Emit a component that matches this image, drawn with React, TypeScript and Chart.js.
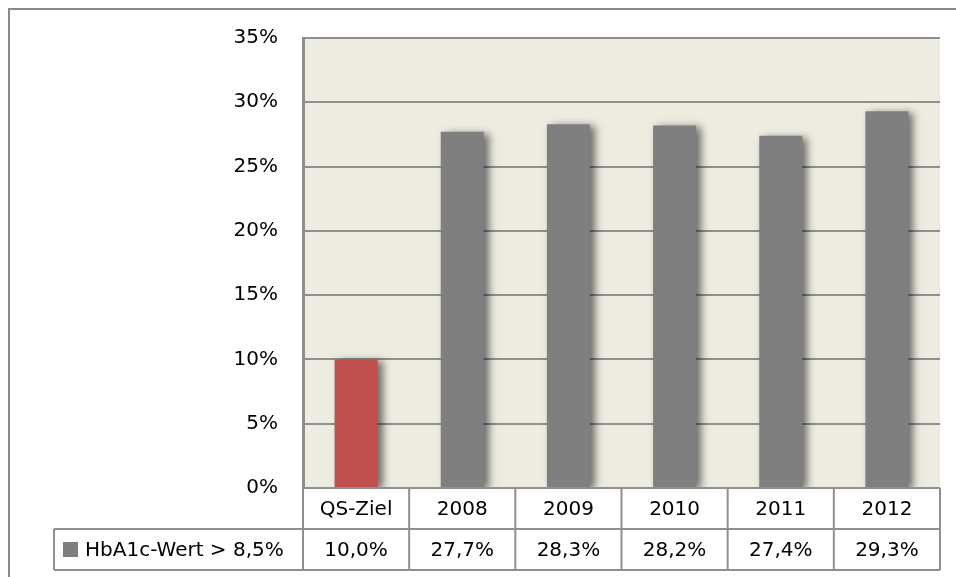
import React, { useEffect, useRef } from "react";
import { Chart, registerables } from "chart.js";

Chart.register(...registerables);

const categories = ["QS-Ziel", "2008", "2009", "2010", "2011", "2012"];
const values = [10.0, 27.7, 28.3, 28.2, 27.4, 29.3];
const barColors = ["#C0504D", "#7F7F7F", "#7F7F7F", "#7F7F7F", "#7F7F7F", "#7F7F7F"];
const seriesLabel = "HbA1c-Wert > 8,5%";
const yMin = 0;
const yMax = 35;
const yStep = 5;

const FONT = "'DejaVu Sans', sans-serif";
const LINE = "#8f8f8f";

const fmt = (v: number) => v.toFixed(1).replace(".", ",") + "%";

const decorPlugin = {
  id: "decor",
  beforeDraw(chart: any) {
    const { ctx, chartArea } = chart;
    ctx.save();
    ctx.fillStyle = "#ffffff";
    ctx.fillRect(0, 0, chart.width, chart.height);
    // outer frame
    ctx.fillStyle = "#8a8a8a";
    ctx.fillRect(8, 8, chart.width - 8, 2);
    ctx.fillRect(8, 8, 2, chart.height - 8);
    // plot background
    ctx.fillStyle = "#EEECE1";
    ctx.fillRect(chartArea.left, chartArea.top, chartArea.right - chartArea.left, chartArea.bottom - chartArea.top);
    ctx.restore();
  },
  beforeDatasetDraw(chart: any) {
    const ctx = chart.ctx;
    ctx.save();
    ctx.shadowColor = "rgba(0,0,0,0.55)";
    ctx.shadowBlur = 8;
    ctx.shadowOffsetX = 5;
    ctx.shadowOffsetY = 2;
  },
  afterDatasetDraw(chart: any) {
    chart.ctx.restore();
  },
  afterDraw(chart: any) {
    const { ctx, chartArea } = chart;
    const x = chart.scales.x;
    const n = categories.length;
    const half = (x.getPixelForValue(1) - x.getPixelForValue(0)) / 2;
    const top = chartArea.bottom;
    const rowH = 41;
    const r1 = top + rowH;
    const r2 = r1 + rowH;
    const legendLeft = 54;
    ctx.save();
    ctx.strokeStyle = LINE;
    ctx.lineWidth = 2;
    ctx.beginPath();
    // horizontal lines
    ctx.moveTo(chartArea.left, top);
    ctx.lineTo(chartArea.right, top);
    ctx.moveTo(legendLeft, r1);
    ctx.lineTo(chartArea.right, r1);
    ctx.moveTo(legendLeft, r2);
    ctx.lineTo(chartArea.right, r2);
    // vertical lines
    ctx.moveTo(legendLeft, r1);
    ctx.lineTo(legendLeft, r2);
    for (let i = 0; i < n; i++) {
      const xl = x.getPixelForValue(i) - half;
      ctx.moveTo(xl, top);
      ctx.lineTo(xl, r2);
    }
    ctx.moveTo(chartArea.right, top);
    ctx.lineTo(chartArea.right, r2);
    ctx.stroke();

    ctx.fillStyle = "#000";
    ctx.font = `20px ${FONT}`;
    ctx.textAlign = "center";
    ctx.textBaseline = "middle";
    for (let i = 0; i < n; i++) {
      const cx = x.getPixelForValue(i);
      ctx.fillText(categories[i], cx, top + rowH / 2 + 1);
      ctx.fillText(fmt(values[i]), cx, r1 + rowH / 2 + 1);
    }
    // legend
    ctx.fillStyle = "#7F7F7F";
    ctx.fillRect(63, r1 + 13, 15, 15);
    ctx.fillStyle = "#000";
    ctx.textAlign = "left";
    ctx.fillText(seriesLabel, 85, r1 + rowH / 2 + 1);
    ctx.restore();
  },
};

export default function App() {
  const ref = useRef<HTMLCanvasElement | null>(null);
  useEffect(() => {
    if (!ref.current) return;
    const chart = new Chart(ref.current, {
      type: "bar",
      data: {
        labels: categories,
        datasets: [
          {
            label: seriesLabel,
            data: values,
            backgroundColor: barColors,
            borderWidth: 0,
            categoryPercentage: 1,
            barPercentage: 0.405,
          },
        ],
      },
      options: {
        responsive: false,
        maintainAspectRatio: false,
        animation: false,
        layout: { padding: { top: 38, right: 16, bottom: 89, left: 0 } },
        plugins: { legend: { display: false }, tooltip: { enabled: false }, title: { display: false } },
        scales: {
          x: { display: false },
          y: {
            min: yMin,
            max: yMax,
            ticks: {
              stepSize: yStep,
              padding: 25,
              color: "#000",
              font: { family: FONT, size: 20 },
              callback: (v: any) => `${v}%`,
            },
            grid: { color: LINE, lineWidth: 2, drawTicks: false },
            border: { display: true, color: LINE, width: 3 },
            afterFit: (scale: any) => {
              scale.width = 303;
            },
          },
        },
      },
      plugins: [decorPlugin],
    });
    return () => chart.destroy();
  }, []);
  return (
    <div style={{ position: "absolute", left: 0, top: 0, width: 956, height: 577 }}>
      <canvas ref={ref} width={956} height={577} style={{ display: "block" }} />
    </div>
  );
}
